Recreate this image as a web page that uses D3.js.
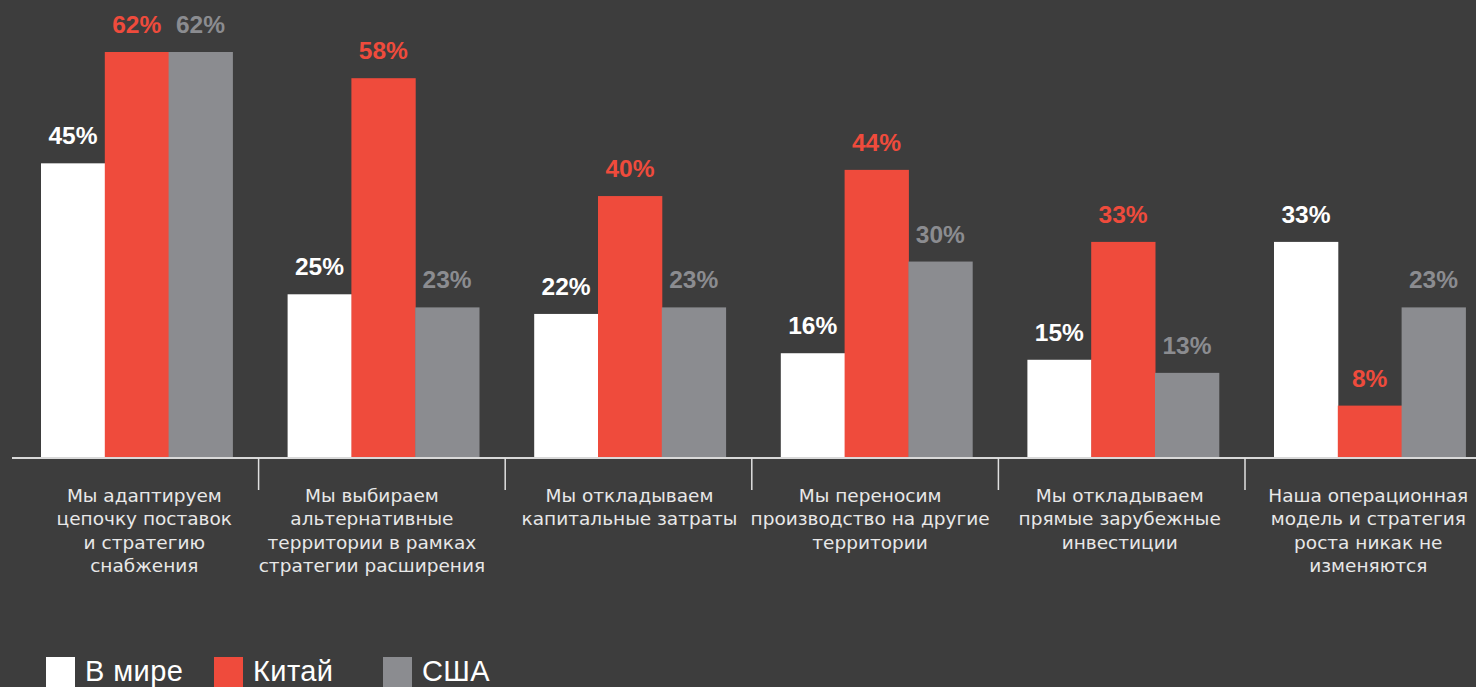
<!DOCTYPE html>
<html><head><meta charset="utf-8">
<script src="https://cdn.jsdelivr.net/npm/d3@7"></script>
<style>
html,body{margin:0;padding:0;background:#3d3d3d;}
svg{display:block;}
text{font-family:"Liberation Sans",Arial,Helvetica,sans-serif;}
</style></head>
<body><svg id="chart" width="1476" height="687"></svg>
<script>
const categories = [
  ["Мы адаптируем","цепочку поставок","и стратегию","снабжения"],
  ["Мы выбираем","альтернативные","территории в рамках","стратегии расширения"],
  ["Мы откладываем","капитальные затраты"],
  ["Мы переносим","производство на другие","территории"],
  ["Мы откладываем","прямые зарубежные","инвестиции"],
  ["Наша операционная","модель и стратегия","роста никак не","изменяются"]
];
const seriesNames = ["В мире","Китай","США"];
const world = [45,25,22,16,15,33];
const china = [62,58,40,44,33,8];
const usa   = [62,23,23,30,13,23];
const colors = ["#ffffff","#ef4b3c","#8b8c90"];
const labelColors = ["#ffffff","#ef4b3c","#8b8c90"];
// layout-only nudges of the category captions (px)
const captionNudge = [9,-10,1,-5,-2,0];

const svg = d3.select("#chart");
const W = 1476, H = 687;
svg.append("rect").attr("width",W).attr("height",H).attr("fill","#3d3d3d");

const baseY = 458;
const x0 = d3.scaleBand().domain(d3.range(categories.length)).range([12, 12+6*246.6]).paddingInner(0).paddingOuter(0);
const x1 = d3.scaleBand().domain(d3.range(3)).range([29, 29+191.4]).padding(0);
const y = d3.scaleLinear().domain([0,62]).range([baseY,52]);

const series = [world, china, usa];
const data = [];
categories.forEach((c,i)=>{ series.forEach((s,j)=>data.push({i,j,v:s[i]})); });

const g = svg.append("g");
g.selectAll("rect.bar").data(data).join("rect").attr("class","bar")
  .attr("x",d=>x0(d.i)+x1(d.j)).attr("width",x1.bandwidth()+0.5)
  .attr("y",d=>y(d.v)).attr("height",d=>baseY-y(d.v))
  .attr("fill",d=>colors[d.j]);

g.selectAll("text.val").data(data).join("text").attr("class","val")
  .attr("x",d=>x0(d.i)+x1(d.j)+x1.bandwidth()/2)
  .attr("y",d=>y(d.v)-19)
  .attr("text-anchor","middle").attr("font-size",24.5).attr("font-weight","bold")
  .attr("fill",d=>labelColors[d.j]).text(d=>d.v+"%");

// axis
const axis = d3.axisBottom(x0).tickSize(0).tickFormat("");
const ag = svg.append("g").attr("transform",`translate(0,${baseY})`).call(axis);
ag.select(".domain").attr("stroke","#d9d9d9").attr("stroke-width",2).attr("d",`M12,0H${W}`);
ag.selectAll(".tick").remove();
ag.selectAll("line.sep").data(d3.range(1,categories.length)).join("line").attr("class","sep")
  .attr("x1",i=>x0(i)).attr("x2",i=>x0(i)).attr("y1",0).attr("y2",32)
  .attr("stroke","#e0e0e0").attr("stroke-width",1.5);

// category labels
const cl = svg.append("g").selectAll("text").data(categories).join("text")
  .attr("x",(d,i)=>x0(i)+x0.bandwidth()/2+captionNudge[i]).attr("y",502)
  .attr("text-anchor","middle").attr("font-size",18.5)
  .style("font-family","'DejaVu Sans',sans-serif").attr("fill","#e8e8e8");
cl.each(function(lines){
  d3.select(this).selectAll("tspan").data(lines).join("tspan")
    .attr("x",d3.select(this).attr("x")).attr("dy",(d,k)=>k===0?0:23.3).text(d=>d);
});

// legend
const legendX = [46,214,383];
const lg = svg.append("g").selectAll("g").data(seriesNames).join("g")
  .attr("transform",(d,i)=>`translate(${legendX[i]},657)`);
lg.append("rect").attr("width",29).attr("height",30).attr("fill",(d,i)=>colors[i]);
lg.append("text").attr("x",39).attr("y",24).attr("font-size",29).attr("letter-spacing",0.4)
  .attr("fill","#ffffff").text(d=>d);
</script></body></html>
